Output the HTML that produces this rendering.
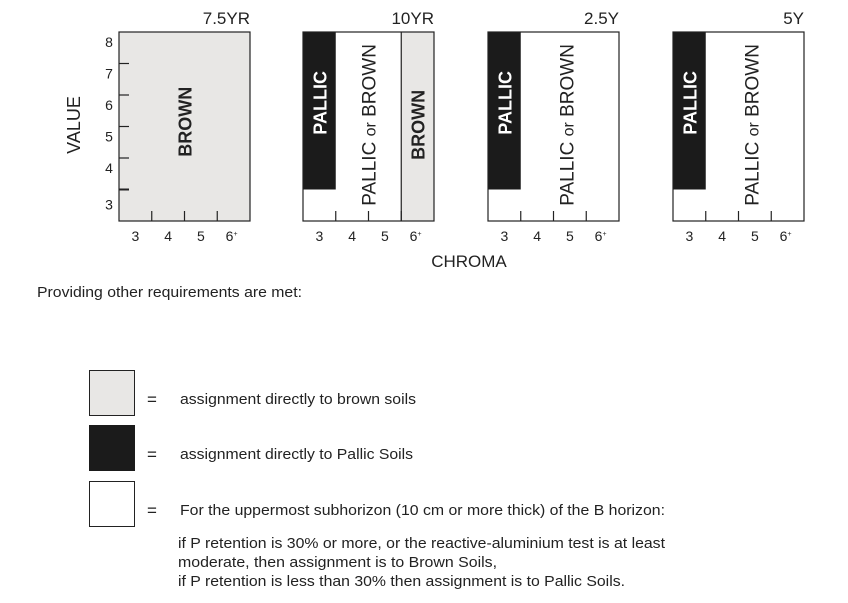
<!DOCTYPE html>
<html><head><meta charset="utf-8"><style>
html,body{margin:0;padding:0;background:#fff;}
svg{display:block;font-family:"Liberation Sans",Arial,sans-serif;}
</style></head><body>
<svg id="chart" width="848" height="603" viewBox="0 0 848 603" xmlns="http://www.w3.org/2000/svg">
<text x="0" y="0" font-size="18" fill="#222" text-anchor="middle" transform="translate(80,125) rotate(-90)">VALUE</text>
<text x="469" y="267" font-size="17" fill="#222" text-anchor="middle">CHROMA</text>
<text x="37" y="297" font-size="15" fill="#222" textLength="265" lengthAdjust="spacingAndGlyphs">Providing other requirements are met:</text>
<g id="legend">
<rect x="89.5" y="370.5" width="45" height="45" fill="#e8e7e5" stroke="#222"/>
<text x="147" y="405" font-size="17" fill="#222">=</text>
<text x="180" y="404" font-size="15" fill="#222" textLength="236" lengthAdjust="spacingAndGlyphs">assignment directly to brown soils</text>
<rect x="89" y="425" width="46" height="46" fill="#1b1b1b"/>
<text x="147" y="460" font-size="17" fill="#222">=</text>
<text x="180" y="459" font-size="15" fill="#222" textLength="233" lengthAdjust="spacingAndGlyphs">assignment directly to Pallic Soils</text>
<rect x="89.5" y="481.5" width="45" height="45" fill="#fff" stroke="#222"/>
<text x="147" y="516" font-size="17" fill="#222">=</text>
<text x="180" y="515" font-size="15" fill="#222" textLength="485" lengthAdjust="spacingAndGlyphs">For the uppermost subhorizon (10 cm or more thick) of the B horizon:</text>
<text x="178" y="548" font-size="15" fill="#222" textLength="487" lengthAdjust="spacingAndGlyphs">if P retention is 30% or more, or the reactive-aluminium test is at least</text>
<text x="178" y="567" font-size="15" fill="#222" textLength="319" lengthAdjust="spacingAndGlyphs">moderate, then assignment is to Brown Soils,</text>
<text x="178" y="586" font-size="15" fill="#222" textLength="447" lengthAdjust="spacingAndGlyphs">if P retention is less than 30% then assignment is to Pallic Soils.</text>
</g>
</svg>
<script>
const hues = ['7.5YR','10YR','2.5Y','5Y'];
const panelLeft = [119,303,488,673];
const chromaTicks = ['3','4','5','6'];
const valueTicks = [3,4,5,6,7,8];
// regions: [panelIndex, kind, chromaMin, chromaMax, valueMin, valueMax]
const regions = [
 [0,'brown',2.5,6.5,2.5,8.5],
 [1,'pallic',2.5,3.5,3.5,8.5],
 [1,'brown',5.5,6.5,2.5,8.5],
 [2,'pallic',2.5,3.5,3.5,8.5],
 [3,'pallic',2.5,3.5,3.5,8.5]
];
// labels: [panelIndex, text, chroma, value, kind]
const labels = [
 [0,'BROWN',4.5,5.65,'brownlab'],
 [1,'PALLIC',3.0,6.25,'pallic'],
 [1,'PALLIC or BROWN',4.5,5.55,'mixed'],
 [1,'BROWN',6.0,5.55,'brownlab'],
 [2,'PALLIC',3.0,6.25,'pallic'],
 [2,'PALLIC or BROWN',4.9,5.55,'mixed'],
 [3,'PALLIC',3.0,6.25,'pallic'],
 [3,'PALLIC or BROWN',4.9,5.55,'mixed']
];
const dividers = [[1,5.5]];

const chartSvg = document.getElementById('chart');
const NS='http://www.w3.org/2000/svg';
const colW=32.75, rowH=31.5, plotTop=32, plotBottom=221;
function xS(p,c){return panelLeft[p]+(c-2.5)*colW;}
function yS(v){return plotBottom-(v-2.5)*rowH;}
function mk(tag,attrs,parent){const e=document.createElementNS(NS,tag);for(const k in attrs)e.setAttribute(k,attrs[k]);(parent||chartSvg).appendChild(e);return e;}

hues.forEach((h,p)=>{
  const g=mk('g',{});
  
  
  mk('rect',{x:xS(p,2.5),y:plotTop,width:xS(p,6.5)-xS(p,2.5),height:plotBottom-plotTop,fill:'#fff'},g);
  regions.filter(r=>r[0]===p).forEach(r=>{
    const e=mk('rect',{x:xS(p,r[2]),y:yS(r[5]),width:xS(p,r[3])-xS(p,r[2]),height:yS(r[4])-yS(r[5]),fill:r[1]==='brown'?'#e8e7e5':'#1b1b1b'},g);
    
    
  });
  dividers.filter(d=>d[0]===p).forEach(d=>{
    const e=mk('line',{x1:xS(p,d[1]),x2:xS(p,d[1]),y1:plotTop,y2:plotBottom,stroke:'#222','stroke-width':1.2},g);
    
    
  });
  const fr=mk('rect',{x:xS(p,2.5),y:plotTop,width:xS(p,6.5)-xS(p,2.5),height:plotBottom-plotTop,fill:'none',stroke:'#222','stroke-width':1.2},g);
  
  
  [3.5,4.5,5.5].forEach(c=>{
    const t=mk('line',{x1:xS(p,c),x2:xS(p,c),y1:plotBottom,y2:plotBottom-10,stroke:'#222','stroke-width':1.2},g);
    
    
  });
  chromaTicks.forEach((c,i)=>{
    const t=mk('text',{x:xS(p,3+i)-(i===3?2:0),y:241,'font-size':14,fill:'#222','text-anchor':'middle'},g);
    t.textContent=c;
    if(i===3){const s=mk('tspan',{'font-size':7,dy:-5},t);s.textContent='+';}
    
    
  });
  const tt=mk('text',{x:xS(p,6.5),y:24,'font-size':17,fill:'#222','text-anchor':'end'},g);
  tt.textContent=h;
  
  
  if(p===0){
    [3.5,4.5,5.5,6.5,7.5].forEach(v=>{
      const t=mk('line',{x1:xS(0,2.5),x2:xS(0,2.5)+10,y1:yS(v),y2:yS(v),stroke:'#222','stroke-width':v===3.5?2:1.2},g);
      
      
    });
    valueTicks.forEach(v=>{
      const t=mk('text',{x:109,y:yS(v)-1+(v===3?5:0),'font-size':14,fill:'#222','text-anchor':'middle'},g);
      t.textContent=v;
      
      
    });
  }
});
labels.forEach(l=>{
  const x=xS(l[0],l[2]), y=yS(l[3]);
  const bold=l[4]!=='mixed';
  const t=mk('text',{x:0,y:0,'font-size':bold?18:19,'font-weight':bold?'bold':'normal',fill:l[4]==='pallic'?'#fff':'#222','text-anchor':'middle',transform:`translate(${x+7},${y}) rotate(-90)`});
  if(l[4]==='mixed'){
    const a=mk('tspan',{},t);a.textContent='PALLIC ';
    const b=mk('tspan',{'font-size':16},t);b.textContent='or';
    const c=mk('tspan',{},t);c.textContent=' BROWN';
  } else t.textContent=l[1];
  
  
});
</script>
</body></html>
